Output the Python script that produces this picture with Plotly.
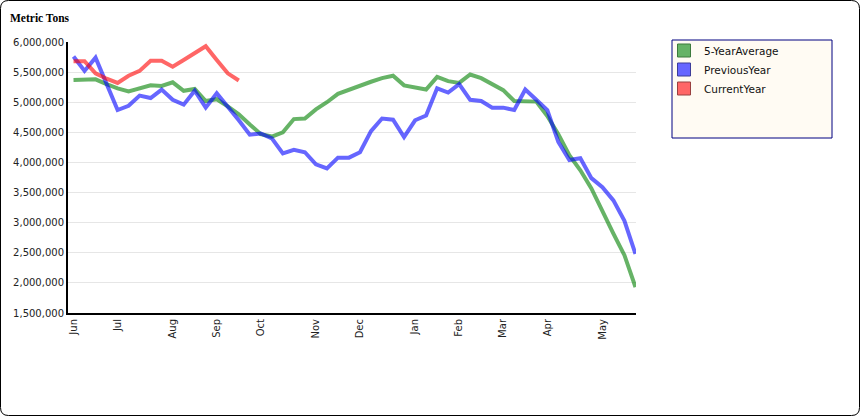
import plotly.graph_objects as go

# weekly categories (52 weeks, Jun -> May)
weeks = list(range(52))
month_ticks = [0, 4, 9, 13, 17, 22, 26, 31, 35, 39, 43, 48]
month_labels = ["Jun", "Jul", "Aug", "Sep", "Oct", "Nov", "Dec", "Jan", "Feb", "Mar", "Apr", "May"]

five_year_avg = [5370000, 5370000, 5380000, 5300000, 5230000, 5180000, 5230000, 5280000, 5270000, 5330000,
                 5190000, 5220000, 5020000, 5050000, 4930000, 4800000, 4630000, 4470000, 4430000, 4500000,
                 4720000, 4730000, 4880000, 5000000, 5140000, 5210000, 5270000, 5340000, 5400000, 5440000,
                 5280000, 5240000, 5210000, 5420000, 5350000, 5320000, 5460000, 5400000, 5300000, 5200000,
                 5020000, 5020000, 5010000, 4770000, 4470000, 4120000, 3870000, 3570000, 3180000, 2820000,
                 2460000, 1930000]
previous_year = [5760000, 5520000, 5740000, 5290000, 4870000, 4940000, 5110000, 5070000, 5210000, 5040000,
                 4960000, 5190000, 4910000, 5150000, 4930000, 4700000, 4460000, 4480000, 4400000, 4150000,
                 4210000, 4170000, 3970000, 3900000, 4080000, 4080000, 4170000, 4520000, 4730000, 4710000,
                 4420000, 4700000, 4780000, 5230000, 5160000, 5300000, 5040000, 5020000, 4910000, 4910000,
                 4870000, 5210000, 5040000, 4870000, 4340000, 4040000, 4070000, 3740000, 3590000, 3370000,
                 3030000, 2480000]
current_year = [5680000, 5680000, 5480000, 5390000, 5320000, 5440000, 5520000, 5690000, 5690000, 5590000,
                5700000, 5820000, 5930000, 5700000, 5480000, 5360000]

series = [
    ("5-YearAverage", five_year_avg, "rgba(0,128,0,0.6)", "#66b366", "#3d7a3d"),
    ("PreviousYear", previous_year, "rgba(0,0,255,0.6)", "#6666ff", "#3d3d99"),
    ("CurrentYear", current_year, "rgba(255,0,0,0.6)", "#ff6666", "#994040"),
]

fig = go.Figure()
for name, vals, lc, fc, bc in series:
    fig.add_trace(go.Scatter(x=weeks[:len(vals)], y=vals, mode="lines", name=name,
                             line=dict(color=lc, width=4), showlegend=False, hoverinfo="x+y"))
for name, vals, lc, fc, bc in series:
    fig.add_trace(go.Scatter(x=[None], y=[None], mode="markers", name=name,
                             marker=dict(symbol="square", size=13, color=fc, line=dict(color=bc, width=1)),
                             showlegend=True))

L, R, T, B = 68, 224, 42, 103
W, H = 860, 416
pw, ph = W - L - R, H - T - B

def px(x):
    return (x - L) / pw

def py(y):
    return (H - B - y) / ph

# outer rounded border
r = 8
x0, x1, y0, y1 = px(0.5), px(859.5), py(415.5), py(0.5)
rx, ry = r / pw, r / ph
path = (f"M {x0+rx},{y1} L {x1-rx},{y1} Q {x1},{y1} {x1},{y1-ry} L {x1},{y0+ry} Q {x1},{y0} {x1-rx},{y0} "
        f"L {x0+rx},{y0} Q {x0},{y0} {x0},{y0+ry} L {x0},{y1-ry} Q {x0},{y1} {x0+rx},{y1} Z")

fig.update_layout(
    width=W, height=H,
    margin=dict(l=L, r=R, t=T, b=B),
    paper_bgcolor="white", plot_bgcolor="white",
    font=dict(family="DejaVu Sans", size=10, color="#222222"),
    xaxis=dict(range=[-0.5, 51.05], tickmode="array", tickvals=month_ticks, ticktext=month_labels,
               tickangle=-90, showgrid=False, zeroline=False, showline=True, linecolor="black",
               linewidth=2, ticks="", tickfont=dict(family="DejaVu Sans", size=10, color="#222222")),
    yaxis=dict(range=[1500000, 6000000], dtick=500000, tickformat=",d", showgrid=True,
               gridcolor="#e6e6e6", gridwidth=1, zeroline=False, showline=True, linecolor="black",
               linewidth=2, ticks="", tickfont=dict(family="DejaVu Sans", size=10, color="#222222")),
    legend=dict(x=px(664), y=py(36), xanchor="left", yanchor="top", bgcolor="rgba(0,0,0,0)",
                borderwidth=0, font=dict(family="DejaVu Sans", size=10.5, color="#111111"),
                itemwidth=30, tracegroupgap=0),
    shapes=[
        dict(type="rect", xref="paper", yref="paper", x0=px(672), x1=px(832), y0=py(138), y1=py(40),
             fillcolor="#fffbf3", line=dict(color="#000080", width=1), layer="below"),
        dict(type="path", xref="paper", yref="paper", path=path, line=dict(color="black", width=1)),
    ],
    annotations=[
        dict(text="<b>Metric Tons</b>", xref="paper", yref="paper", x=px(8), y=py(18),
             xanchor="left", yanchor="middle", showarrow=False,
             font=dict(family="Liberation Serif", size=11.5, color="black")),
    ],
)

fig.write_html("out.html", config={"displayModeBar": False},
               post_script="document.body.style.margin='0px';")
